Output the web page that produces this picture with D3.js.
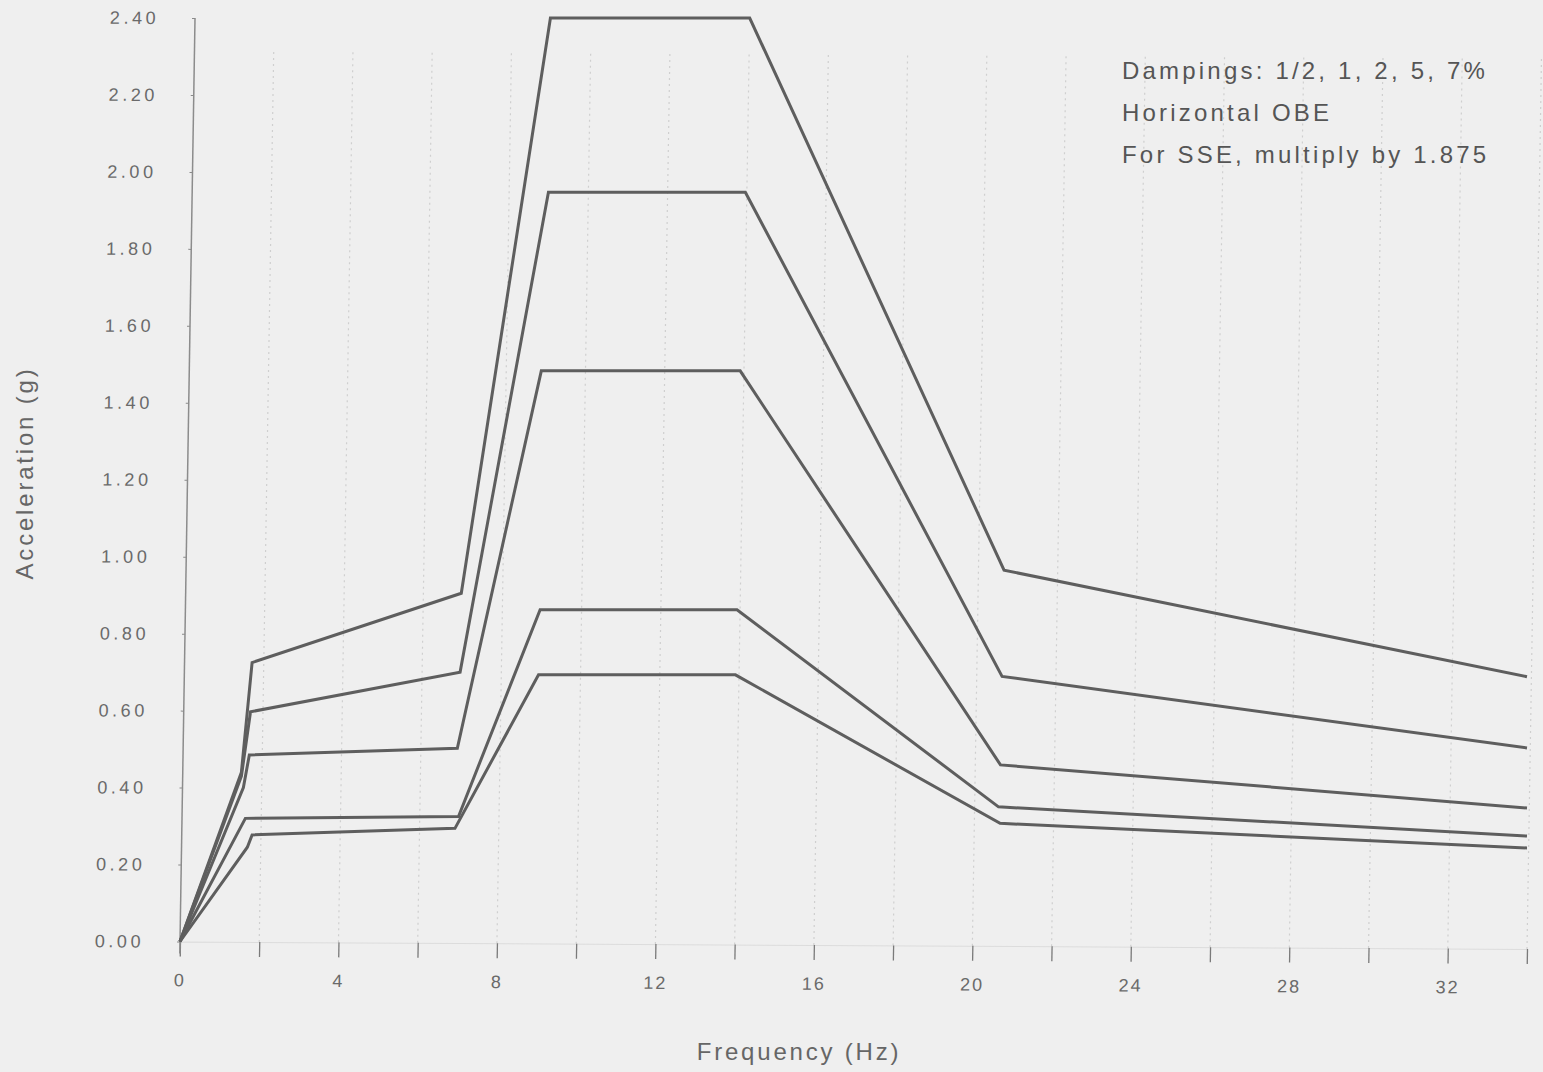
<!DOCTYPE html>
<html>
<head>
<meta charset="utf-8">
<script src="https://cdn.jsdelivr.net/npm/d3@7"></script>
<style>
  html, body { margin: 0; padding: 0; background: #efefef; }
  svg { display: block; }
  text { font-family: "Liberation Sans", Arial, sans-serif; }
</style>
</head>
<body>
<svg id="chart" width="1543" height="1072"></svg>
<script>
// ---- Data ----
const dampingLabels = ["1/2%", "1%", "2%", "5%", "7%"];
const freqHalf = [0, 1.55, 1.82, 7.10, 9.35, 14.38, 20.80, 34];
const accHalf  = [0, 0.44, 0.725, 0.905, 2.40, 2.40, 0.965, 0.688];
const freqOne  = [0, 1.55, 1.78, 7.07, 9.30, 14.27, 20.75, 34];
const accOne   = [0, 0.43, 0.597, 0.700, 1.947, 1.947, 0.689, 0.503];
const freqTwo  = [0, 1.60, 1.75, 7.00, 9.12, 14.14, 20.71, 34];
const accTwo   = [0, 0.40, 0.485, 0.502, 1.483, 1.483, 0.459, 0.347];
const freqFive = [0, 1.65, 7.03, 9.09, 14.06, 20.66, 34];
const accFive  = [0, 0.320, 0.325, 0.862, 0.862, 0.350, 0.274];
const freqSeven = [0, 1.70, 1.82, 6.94, 9.05, 14.02, 20.70, 34];
const accSeven  = [0, 0.245, 0.277, 0.294, 0.693, 0.693, 0.307, 0.243];

const xTickValues = [0,2,4,6,8,10,12,14,16,18,20,22,24,26,28,30,32,34];
const xLabelValues = [0,4,8,12,16,20,24,28,32];
const yTickValues = [0,0.2,0.4,0.6,0.8,1.0,1.2,1.4,1.6,1.8,2.0,2.2,2.4];
const notes = ["Dampings:  1/2, 1, 2, 5, 7%", "Horizontal OBE", "For SSE, multiply by 1.875"];
const xTitle = "Frequency (Hz)";
const yTitle = "Acceleration (g)";

const series = [
  {freq: freqHalf, acc: accHalf},
  {freq: freqOne, acc: accOne},
  {freq: freqTwo, acc: accTwo},
  {freq: freqFive, acc: accFive},
  {freq: freqSeven, acc: accSeven}
];

// ---- Layout ----
const svg = d3.select("#chart");
const x0 = 180, x1 = 1527, yBottom = 941.5, yTop = 18;
const x = d3.scaleLinear().domain([0, 34]).range([x0, x1]);
const y = d3.scaleLinear().domain([0, 2.4]).range([yBottom, yTop]);

// slight shear of the scanned frame (axes & grid only)
const k = 15 / 923;   // y-axis lean
const m = 0.0055;     // x-axis droop
const frame = svg.append("g")
  .attr("transform", `matrix(1,${m},${-k},1,${k * yBottom},${-m * x0})`);

// vertical dotted grid
frame.append("g").selectAll("line")
  .data(xTickValues.filter(v => v > 0))
  .join("line")
  .attr("x1", d => x(d)).attr("x2", d => x(d))
  .attr("y1", yBottom).attr("y2", yTop + 30)
  .attr("stroke", "#cfcfcf").attr("stroke-width", 1.2)
  .attr("stroke-dasharray", "2,4");

// x axis ticks
const xAxis = d3.axisBottom(x).tickValues(xTickValues).tickSize(15)
  .tickFormat(d => xLabelValues.includes(d) ? d3.format("d")(d) : "");
const gx = frame.append("g").attr("transform", `translate(0,${yBottom})`).call(xAxis);
gx.select(".domain").attr("stroke", "#dcdcdc").attr("stroke-width", 1);
gx.selectAll(".tick line").attr("stroke", "#7a7a7a").attr("stroke-width", 1.3);
gx.selectAll(".tick text")
  .attr("y", 32).attr("dy", "0.71em")
  .attr("fill", "#6a6a6a").style("font-size", "18px").style("letter-spacing", "2px");

// y axis
const yAxis = d3.axisLeft(y).tickValues(yTickValues).tickSize(3)
  .tickFormat(d3.format(".2f"));
const gy = frame.append("g").attr("transform", `translate(${x0},0)`).call(yAxis);
gy.select(".domain").remove();
gy.selectAll(".tick line").attr("stroke", "#8a8a8a");
gy.selectAll(".tick text")
  .attr("x", -36)
  .attr("fill", "#6a6a6a").style("font-size", "18px").style("letter-spacing", "3.5px");
frame.append("line")
  .attr("x1", x0).attr("x2", x0)
  .attr("y1", yBottom + 12).attr("y2", yTop)
  .attr("stroke", "#8c8c8c").attr("stroke-width", 1.5);

// ---- Curves ----
const line = d3.line().x(d => x(d[0])).y(d => y(d[1]));
svg.append("g").selectAll("path")
  .data(series)
  .join("path")
  .attr("d", s => line(s.freq.map((f, i) => [f, s.acc[i]])))
  .attr("fill", "none")
  .attr("stroke", "#5e5e5e")
  .attr("stroke-width", 3)
  .attr("stroke-linejoin", "miter");

// ---- Annotation ----
svg.append("g").selectAll("text")
  .data(notes)
  .join("text")
  .attr("x", 1122)
  .attr("y", (d, i) => 79 + i * 42)
  .attr("fill", "#555")
  .style("font-size", "24px")
  .style("letter-spacing", "3.2px")
  .text(d => d);

// ---- Titles ----
svg.append("text")
  .attr("x", 799).attr("y", 1060)
  .attr("text-anchor", "middle")
  .attr("fill", "#666")
  .style("font-size", "24px").style("letter-spacing", "2.8px")
  .text(xTitle);

svg.append("text")
  .attr("transform", "translate(33,473) rotate(-90)")
  .attr("text-anchor", "middle")
  .attr("fill", "#666")
  .style("font-size", "24px").style("letter-spacing", "2.8px")
  .text(yTitle);
</script>
</body>
</html>
